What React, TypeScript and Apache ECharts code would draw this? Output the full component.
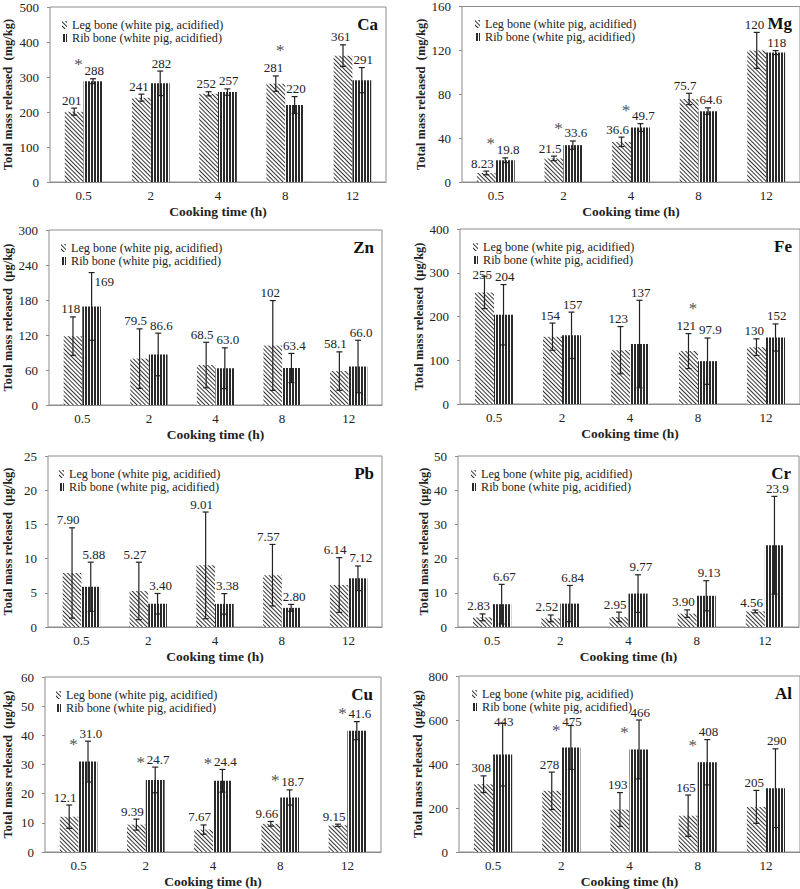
import React, { useEffect, useRef } from 'react';
import * as echarts from 'echarts';

// ---------- data ----------
const categories = ['0.5', '2', '4', '8', '12'];
const seriesNames = ['Leg bone (white pig, acidified)', 'Rib bone (white pig, acidified)'];
const elements = ['Ca', 'Mg', 'Zn', 'Fe', 'Pb', 'Cr', 'Cu', 'Al'];
const units = ['mg/kg', 'mg/kg', 'μg/kg', 'μg/kg', 'μg/kg', 'μg/kg', 'μg/kg', 'μg/kg'];
const yMax = [500, 160, 300, 400, 25, 50, 60, 800];
const yStep = [100, 40, 60, 100, 5, 10, 10, 200];

const caLeg = [201, 241, 252, 281, 361];
const caLegErr = [10, 10, 6, 22, 31];
const caRib = [288, 282, 257, 220, 291];
const caRibErr = [7, 35, 9, 24, 36];
const caSig = [1, 0, 0, 1, 0];

const mgLeg = [8.23, 21.5, 36.6, 75.7, 120];
const mgLegErr = [1.7, 2.1, 4.3, 5.2, 16.4];
const mgRib = [19.8, 33.6, 49.7, 64.6, 118];
const mgRibErr = [2.2, 3.8, 3.5, 3.0, 1.8];
const mgSig = [1, 1, 1, 0, 0];

const znLeg = [118, 79.5, 68.5, 102, 58.1];
const znLegErr = [33, 51, 39, 77, 33];
const znRib = [169, 86.6, 63.0, 63.4, 66.0];
const znRibErr = [58, 36.5, 35, 25, 45];
const znSig = [0, 0, 0, 0, 0];

const feLeg = [255, 154, 123, 121, 130];
const feLegErr = [37, 31, 54, 40, 19];
const feRib = [204, 157, 137, 97.9, 152];
const feRibErr = [69, 53, 100, 53, 31];
const feSig = [0, 0, 0, 1, 0];

const pbLeg = [7.90, 5.27, 9.01, 7.57, 6.14];
const pbLegErr = [6.6, 4.2, 7.8, 4.5, 4.0];
const pbRib = [5.88, 3.40, 3.38, 2.80, 7.12];
const pbRibErr = [3.6, 1.5, 1.5, 0.5, 1.8];
const pbSig = [0, 0, 0, 0, 0];

const crLeg = [2.83, 2.52, 2.95, 3.90, 4.56];
const crLegErr = [1.0, 1.0, 1.4, 1.1, 0.4];
const crRib = [6.67, 6.84, 9.77, 9.13, 23.9];
const crRibErr = [5.8, 5.3, 5.5, 4.4, 14.3];
const crSig = [0, 0, 0, 0, 0];

const cuLeg = [12.1, 9.39, 7.67, 9.66, 9.15];
const cuLegErr = [4.0, 1.9, 1.6, 0.8, 0.4];
const cuRib = [31.0, 24.7, 24.4, 18.7, 41.6];
const cuRibErr = [7.0, 4.4, 3.9, 2.6, 3.1];
const cuSig = [1, 1, 1, 1, 1];

const alLeg = [308, 278, 193, 165, 205];
const alLegErr = [38, 85, 77, 94, 75];
const alRib = [443, 475, 466, 408, 290];
const alRibErr = [143, 100, 134, 103, 179];
const alSig = [0, 1, 1, 1, 0];

const panels = [
  { leg: caLeg, legErr: caLegErr, rib: caRib, ribErr: caRibErr, sig: caSig },
  { leg: mgLeg, legErr: mgLegErr, rib: mgRib, ribErr: mgRibErr, sig: mgSig },
  { leg: znLeg, legErr: znLegErr, rib: znRib, ribErr: znRibErr, sig: znSig },
  { leg: feLeg, legErr: feLegErr, rib: feRib, ribErr: feRibErr, sig: feSig },
  { leg: pbLeg, legErr: pbLegErr, rib: pbRib, ribErr: pbRibErr, sig: pbSig },
  { leg: crLeg, legErr: crLegErr, rib: crRib, ribErr: crRibErr, sig: crSig },
  { leg: cuLeg, legErr: cuLegErr, rib: cuRib, ribErr: cuRibErr, sig: cuSig },
  { leg: alLeg, legErr: alLegErr, rib: alRib, ribErr: alRibErr, sig: alSig },
];

// ---------- layout (pixels) ----------
const rects = [
  [49, 7, 386, 182],
  [462, 6, 801, 182],
  [48, 230, 382, 405],
  [460, 229, 801, 404],
  [46, 456, 382, 627],
  [458, 456, 799, 627],
  [43, 677, 381, 853],
  [459, 676, 801, 853],
];
const yNameGap = [36, 32, 35, 32, 34, 27, 31, 29];

const FONT = 'Liberation Serif';
const TEXT = '#222';
const BORDER = '#8c8c8c';
const BAR_RATIO = 0.28;
const LEGEND_W = 170;
const LEGEND_H = 45;

const legDecal = {
  symbol: 'rect', symbolSize: 1, dashArrayX: [1, 0], dashArrayY: [1, 2],
  rotation: Math.PI / 4, color: '#333',
};
const ribDecal = {
  symbol: 'rect', symbolSize: 1, dashArrayX: [1, 0], dashArrayY: [2, 1],
  rotation: Math.PI / 2, color: '#2a2a2a',
};

function fmt(v: number) {
  return Number(v).toPrecision(3);
}

function buildOption() {
  const grid = rects.map(([l, t, r, b]) => ({
    left: l, top: t, width: r - l, height: b - t,
    show: true, borderColor: BORDER, borderWidth: 1, backgroundColor: '#fff',
  }));
  const xAxis = rects.map((_, i) => ({
    type: 'category', gridIndex: i, data: categories,
    axisLine: { show: true, lineStyle: { color: BORDER } },
    axisTick: { show: false },
    axisLabel: { fontFamily: FONT, fontSize: 13, color: TEXT, margin: 7 },
    name: 'Cooking time (h)', nameLocation: 'middle', nameGap: 22,
    nameTextStyle: { fontFamily: FONT, fontWeight: 'bold', fontSize: 13.5, color: TEXT },
  }));
  const yAxis = rects.map((_, i) => ({
    type: 'value', gridIndex: i, min: 0, max: yMax[i], interval: yStep[i],
    axisLine: { show: false },
    axisTick: { show: true, length: 3, lineStyle: { color: BORDER } },
    splitLine: { show: false },
    axisLabel: { fontFamily: FONT, fontSize: 13, color: TEXT, margin: 11 },
    name: `Total mass released  (${units[i]})`, nameLocation: 'middle', nameGap: yNameGap[i],
    nameRotate: 90,
    nameTextStyle: { fontFamily: FONT, fontWeight: 'bold', fontSize: 12.5, color: TEXT },
  }));
  const legend = rects.map(([l, t]) => ({
    data: seriesNames, left: l + 8, top: t + 7, orient: 'vertical',
    itemWidth: 5, itemHeight: 8, itemGap: 1, selectedMode: false, icon: 'rect',
    textStyle: { fontFamily: FONT, fontSize: 12.2, color: TEXT },
  }));
  const series: any[] = [];
  panels.forEach((p, i) => {
    const [gl, gt] = rects[i];
    series.push({
      type: 'bar', name: seriesNames[0], xAxisIndex: i, yAxisIndex: i, data: p.leg,
      barWidth: `${BAR_RATIO * 100}%`, barGap: '0%', silent: true,
      itemStyle: { color: '#fff', decal: legDecal },
    });
    series.push({
      type: 'bar', name: seriesNames[1], xAxisIndex: i, yAxisIndex: i, data: p.rib,
      barWidth: `${BAR_RATIO * 100}%`, barGap: '0%', silent: true,
      itemStyle: { color: '#fff', decal: ribDecal },
    });
    series.push({
      type: 'custom', xAxisIndex: i, yAxisIndex: i, silent: true, z: 5,
      data: categories.map((_, k) => [k, Math.max(p.leg[k], p.rib[k])]),
      encode: { x: 0, y: 1 },
      renderItem: (params: any, api: any) => {
        const k = api.value(0);
        const band = api.size([1, 0])[0];
        const bw = band * BAR_RATIO;
        const cx = api.coord([k, 0])[0];
        const children: any[] = [];
        const items = [
          [p.leg[k], p.legErr[k], cx - bw / 2, 0],
          [p.rib[k], p.ribErr[k], cx + bw / 2, 1],
        ];
        const labelY: number[] = [];
        for (const [v, e, x, side] of items) {
          const yT = api.coord([k, v + e])[1];
          const yB = api.coord([k, Math.max(0, v - e)])[1];
          const st = { stroke: '#222', lineWidth: 1.2 };
          children.push({ type: 'line', shape: { x1: x, y1: yT, x2: x, y2: yB }, style: st });
          children.push({ type: 'line', shape: { x1: x - 3, y1: yT, x2: x + 3, y2: yT }, style: st });
          children.push({ type: 'line', shape: { x1: x - 3, y1: yB, x2: x + 3, y2: yB }, style: st });
          // value label above the error bar, leaning away from the pair's centre;
          // if it would run into the legend, set it beside the error bar instead
          let ly = yT - 8;
          let lx = side === 0 ? cx - 2 : cx + 1;
          let align = side === 0 ? 'right' : 'left';
          if (x < gl + LEGEND_W && ly < gt + LEGEND_H) {
            if (gt + LEGEND_H - ly > 7) {
              ly = yT + 9;
              lx = x + 3;
              align = 'left';
            } else {
              ly = gt + LEGEND_H;
            }
          }
          labelY.push(ly);
          children.push({
            type: 'text', x: lx, y: ly,
            style: { text: fmt(v), font: `13px ${FONT}`, fill: TEXT, align, verticalAlign: 'middle' },
          });
        }
        if (p.sig[k]) {
          const yRib = api.coord([k, p.rib[k]])[1];
          const y = Math.min(labelY[0], yRib) - 17;
          children.push({
            type: 'text', x: cx - 5, y,
            style: { text: '*', font: `17px ${FONT}`, fill: '#555', align: 'center', verticalAlign: 'middle' },
          });
        }
        return { type: 'group', children };
      },
    });
  });
  const graphic = rects.map(([l, t, r], i) => ({
    type: 'text', x: Math.min(r, 800) - 8, y: t + 17, z: 10,
    style: { text: elements[i], font: `bold 17px ${FONT}`, fill: '#111', align: 'right', verticalAlign: 'middle' },
  }));
  return {
    animation: false,
    backgroundColor: '#fff',
    grid, xAxis, yAxis, legend, series, graphic,
  };
}

export default function App() {
  const ref = useRef<HTMLDivElement>(null);
  useEffect(() => {
    if (!ref.current) return;
    const chart = echarts.init(ref.current, null, { renderer: 'svg' });
    chart.setOption(buildOption() as any);
    return () => chart.dispose();
  }, []);
  return (
    <div
      ref={ref}
      style={{ position: 'absolute', left: 0, top: 0, width: 800, height: 889, background: '#fff' }}
    />
  );
}
